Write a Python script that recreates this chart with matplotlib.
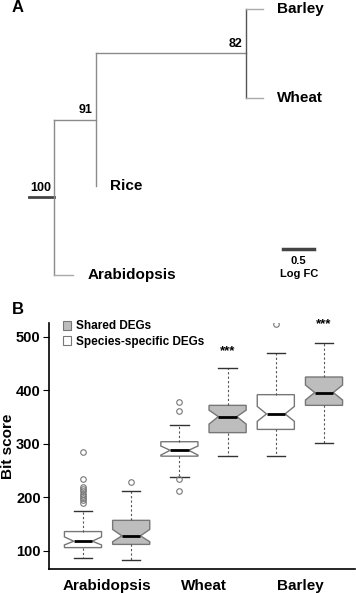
import matplotlib
matplotlib.use("Agg")
import matplotlib.pyplot as plt
from matplotlib.patches import Patch

plt.rcParams['font.family'] = ['Liberation Sans', 'DejaVu Sans']
plt.rcParams['font.weight'] = 'bold'
plt.rcParams['axes.labelweight'] = 'bold'

# ---- panel A: tree (branch lengths in Log FC units) ----
tips = ['Arabidopsis', 'Rice', 'Wheat', 'Barley']
tip_y = [1, 2, 3, 4]
root_stub = 0.40
len_arab = 0.31
len_node91 = 0.68
len_rice = 0.0
len_node82 = 2.42
len_wheat = 0.27
len_barley = 0.27
support = ['100', '91', '82']
scale_len = 0.5

# ---- panel B: box stats ----
groups = ['Arabidopsis', 'Wheat', 'Barley']
box_kind = ['specific', 'shared', 'specific', 'shared', 'specific', 'shared']
q1 = [106, 112, 277, 321, 327, 372]
med = [118, 128, 288, 351, 356, 396]
q3 = [136, 157, 304, 372, 392, 425]
whislo = [87, 82, 238, 278, 277, 301]
whishi = [174, 211, 335, 442, 470, 489]
cilo = [111, 117, 279, 337, 342, 382]
cihi = [126, 140, 296, 363, 370, 410]
fliers = [
    [284, 235, 219, 215, 211, 207, 203, 199, 195, 190],
    [229],
    [378, 361, 234, 212],
    [],
    [525],
    [],
]
stars = ['', '', '', '***', '', '***']
star_y = [0, 0, 0, 474, 0, 523]

fig = plt.figure(figsize=(3.56, 5.93), dpi=100)
W, H = 356, 593

# panel A axes covers top 300 px
axA = fig.add_axes([0, (H - 300) / H, 1, 300 / H])
axA.set_xlim(-0.468, 5.274)
axA.set_ylim(0.718, 4.10)
axA.axis('off')

x_root = root_stub
x_arab = x_root + len_arab
x_n91 = x_root + len_node91
x_rice = x_n91 + len_rice
x_n82 = x_n91 + len_node82
y_n82 = (tip_y[2] + tip_y[3]) / 2
y_n91 = (tip_y[1] + y_n82) / 2
y_root = (tip_y[0] + y_n91) / 2

lc = '#8a8a8a'
axA.plot([0, x_root], [y_root, y_root], color='#444444', lw=2)
axA.plot([x_root, x_root], [tip_y[0], y_n91], color=lc, lw=1)
axA.plot([x_root, x_arab], [tip_y[0], tip_y[0]], color='#aaaaaa', lw=1)
axA.plot([x_root, x_n91], [y_n91, y_n91], color=lc, lw=1)
axA.plot([x_n91, x_n91], [tip_y[1], y_n82], color=lc, lw=1)
axA.plot([x_n91, x_n82], [y_n82, y_n82], color=lc, lw=1)
axA.plot([x_n82, x_n82], [tip_y[2], tip_y[3]], color='#555555', lw=1)
axA.plot([x_n82, x_n82 + len_wheat], [tip_y[2], tip_y[2]], color='#aaaaaa', lw=1)
axA.plot([x_n82, x_n82 + len_barley], [tip_y[3], tip_y[3]], color='#aaaaaa', lw=1)

tip_x = [x_arab, x_rice, x_n82 + len_wheat, x_n82 + len_barley]
for name, tx, ty in zip(tips, tip_x, tip_y):
    axA.text(tx + 0.23, ty, name, fontsize=11, ha='left', va='center')

axA.text(0.02, y_root + 0.04, support[0], fontsize=9, ha='left', va='bottom')
axA.text(x_n91 - 0.06, y_n91 + 0.04, support[1], fontsize=9, ha='right', va='bottom')
axA.text(x_n82 - 0.06, y_n82 + 0.04, support[2], fontsize=9, ha='right', va='bottom')

sb_x, sb_y = 4.10, 1.293
axA.plot([sb_x, sb_x + scale_len], [sb_y, sb_y], color='#444444', lw=2.5)
axA.text(sb_x + scale_len / 2, sb_y - 0.08, '0.5', fontsize=8, ha='center', va='top')
axA.text(sb_x + scale_len / 2, sb_y - 0.23, 'Log FC', fontsize=8, ha='center', va='top')

fig.text(12 / W, 1 - 8 / H, 'A', fontsize=12, ha='left', va='center')
fig.text(12 / W, 1 - 310 / H, 'B', fontsize=12, ha='left', va='center')

# ---- panel B ----
axB = fig.add_axes([49 / W, (H - 569) / H, 306 / W, 246 / H])
positions = list(range(1, 7))
stats = []
for i in range(6):
    stats.append(dict(med=med[i], q1=q1[i], q3=q3[i], whislo=whislo[i],
                      whishi=whishi[i], cilo=cilo[i], cihi=cihi[i],
                      fliers=fliers[i]))

bp = axB.bxp(stats, positions=positions, widths=0.77, shownotches=True,
             patch_artist=True, showfliers=True,
             boxprops=dict(edgecolor='#777777', linewidth=1),
             whiskerprops=dict(color='#555555', linestyle=(0, (2, 2)), linewidth=0.8),
             capprops=dict(color='#333333', linewidth=1),
             medianprops=dict(color='black', linewidth=2),
             flierprops=dict(marker='o', markerfacecolor='none',
                             markeredgecolor='#777777', markersize=4, markeredgewidth=0.8))
for patch, kind in zip(bp['boxes'], box_kind):
    patch.set_facecolor('#bdbdbd' if kind == 'shared' else 'white')

for p, s, sy in zip(positions, stars, star_y):
    if s:
        axB.text(p, sy, s, fontsize=9.5, ha='center', va='center')

axB.set_xlim(0.295, 6.643)
axB.set_ylim(66, 526)
axB.set_yticks([100, 200, 300, 400, 500])
axB.set_xticks([1.5, 3.5, 5.5])
axB.set_xticklabels(groups, fontsize=11)
axB.tick_params(axis='x', length=0, pad=7)
axB.tick_params(axis='y', labelsize=10.5, length=4, width=0.8, pad=2)
axB.set_ylabel('Bit score', fontsize=11, fontweight='bold')
axB.yaxis.set_label_coords(-0.11, 0.5)
axB.spines['top'].set_visible(False)
axB.spines['right'].set_visible(False)
axB.spines['left'].set_linewidth(1.2)
axB.spines['bottom'].set_linewidth(1.2)

handles = [Patch(facecolor='#bdbdbd', edgecolor='#777777', lw=0.8, label='Shared DEGs'),
           Patch(facecolor='white', edgecolor='#777777', lw=0.8, label='Species-specific DEGs')]
axB.legend(handles=handles, loc='upper left', bbox_to_anchor=(0.03, 1.03),
           frameon=False, fontsize=8.5, handlelength=0.7, handleheight=0.8,
           handletextpad=0.4, labelspacing=0.3, borderaxespad=0.0)

fig.savefig('out.png', dpi=100)
